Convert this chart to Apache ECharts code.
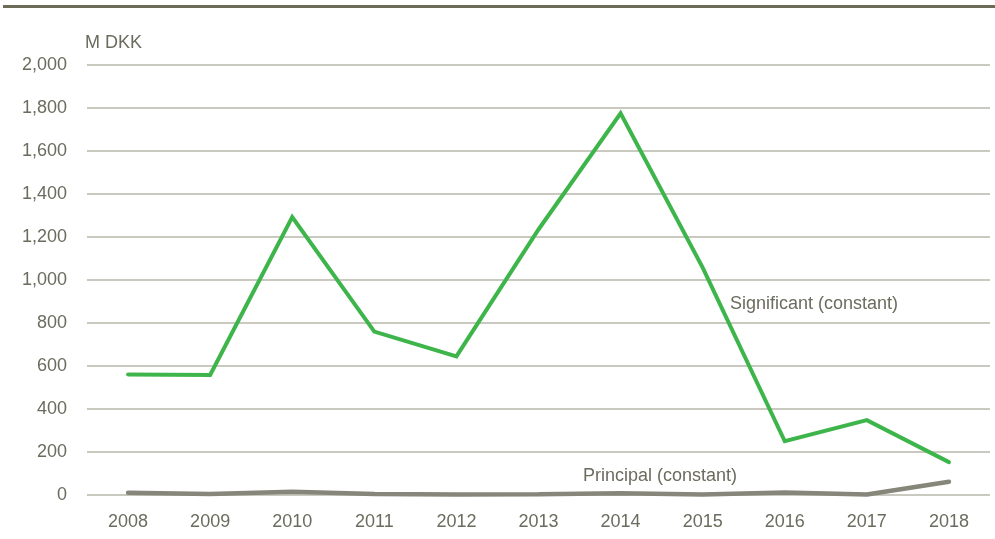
<!DOCTYPE html>
<html>
<head>
<meta charset="utf-8">
<script src="https://cdn.jsdelivr.net/npm/echarts@6/dist/echarts.min.js"></script>
<style>html,body{margin:0;padding:0;background:#fff}#c{width:995px;height:539px}</style>
</head>
<body>
<div id="c"></div>
<script>
const years = ['2008','2009','2010','2011','2012','2013','2014','2015','2016','2017','2018'];
const significant = [561, 558, 1293, 760, 645, 1235, 1775, 1058, 250, 348, 153];
const principal = [10, 5, 15, 5, 2, 3, 8, 2, 12, 2, 62];
const yTicks = {min: 0, max: 2000, interval: 200};

const FONT = '"Liberation Sans", Arial, sans-serif';
const FS = 18;
const TXT = '#6b6b5e';
const chart = echarts.init(document.getElementById('c'), null, {renderer: 'canvas'});
chart.setOption({
  animation: false,
  backgroundColor: '#fff',
  grid: {left: 87, right: 5, top: 65, bottom: 44},
  xAxis: {
    type: 'category', data: years, boundaryGap: true,
    axisLine: {show: false}, axisTick: {show: false},
    axisLabel: {color: TXT, fontFamily: FONT, fontSize: FS, margin: 18}
  },
  yAxis: {
    type: 'value', min: yTicks.min, max: yTicks.max, interval: yTicks.interval,
    name: 'M DKK', nameLocation: 'end', nameGap: 13,
    nameTextStyle: {color: TXT, fontFamily: FONT, fontSize: FS, align: 'left', padding: [0,0,0,-2]},
    axisLine: {show: false}, axisTick: {show: false},
    axisLabel: {color: TXT, fontFamily: FONT, fontSize: FS, margin: 20,
      formatter: v => v.toLocaleString('en-US')},
    splitLine: {lineStyle: {color: '#c9c9bf', width: 2}}
  },
  series: [
    {name: 'Significant (constant)', type: 'line', data: significant, symbol: 'none',
     lineStyle: {color: '#3db54a', width: 4, cap: 'round', join: 'miter'}, z: 3},
    {name: 'Principal (constant)', type: 'line', data: principal, symbol: 'none',
     lineStyle: {color: '#86867a', width: 4.5, cap: 'round'}, z: 2}
  ],
  graphic: [
    {type: 'rect', left: 3, top: 5, shape: {width: 992, height: 3}, style: {fill: '#6b6b58'}},
    {type: 'text', left: 730, top: 295, style: {text: 'Significant (constant)', fill: TXT, font: FS + 'px ' + FONT}},
    {type: 'text', left: 583, top: 467, style: {text: 'Principal (constant)', fill: TXT, font: FS + 'px ' + FONT}}
  ]
});
</script>
</body>
</html>
